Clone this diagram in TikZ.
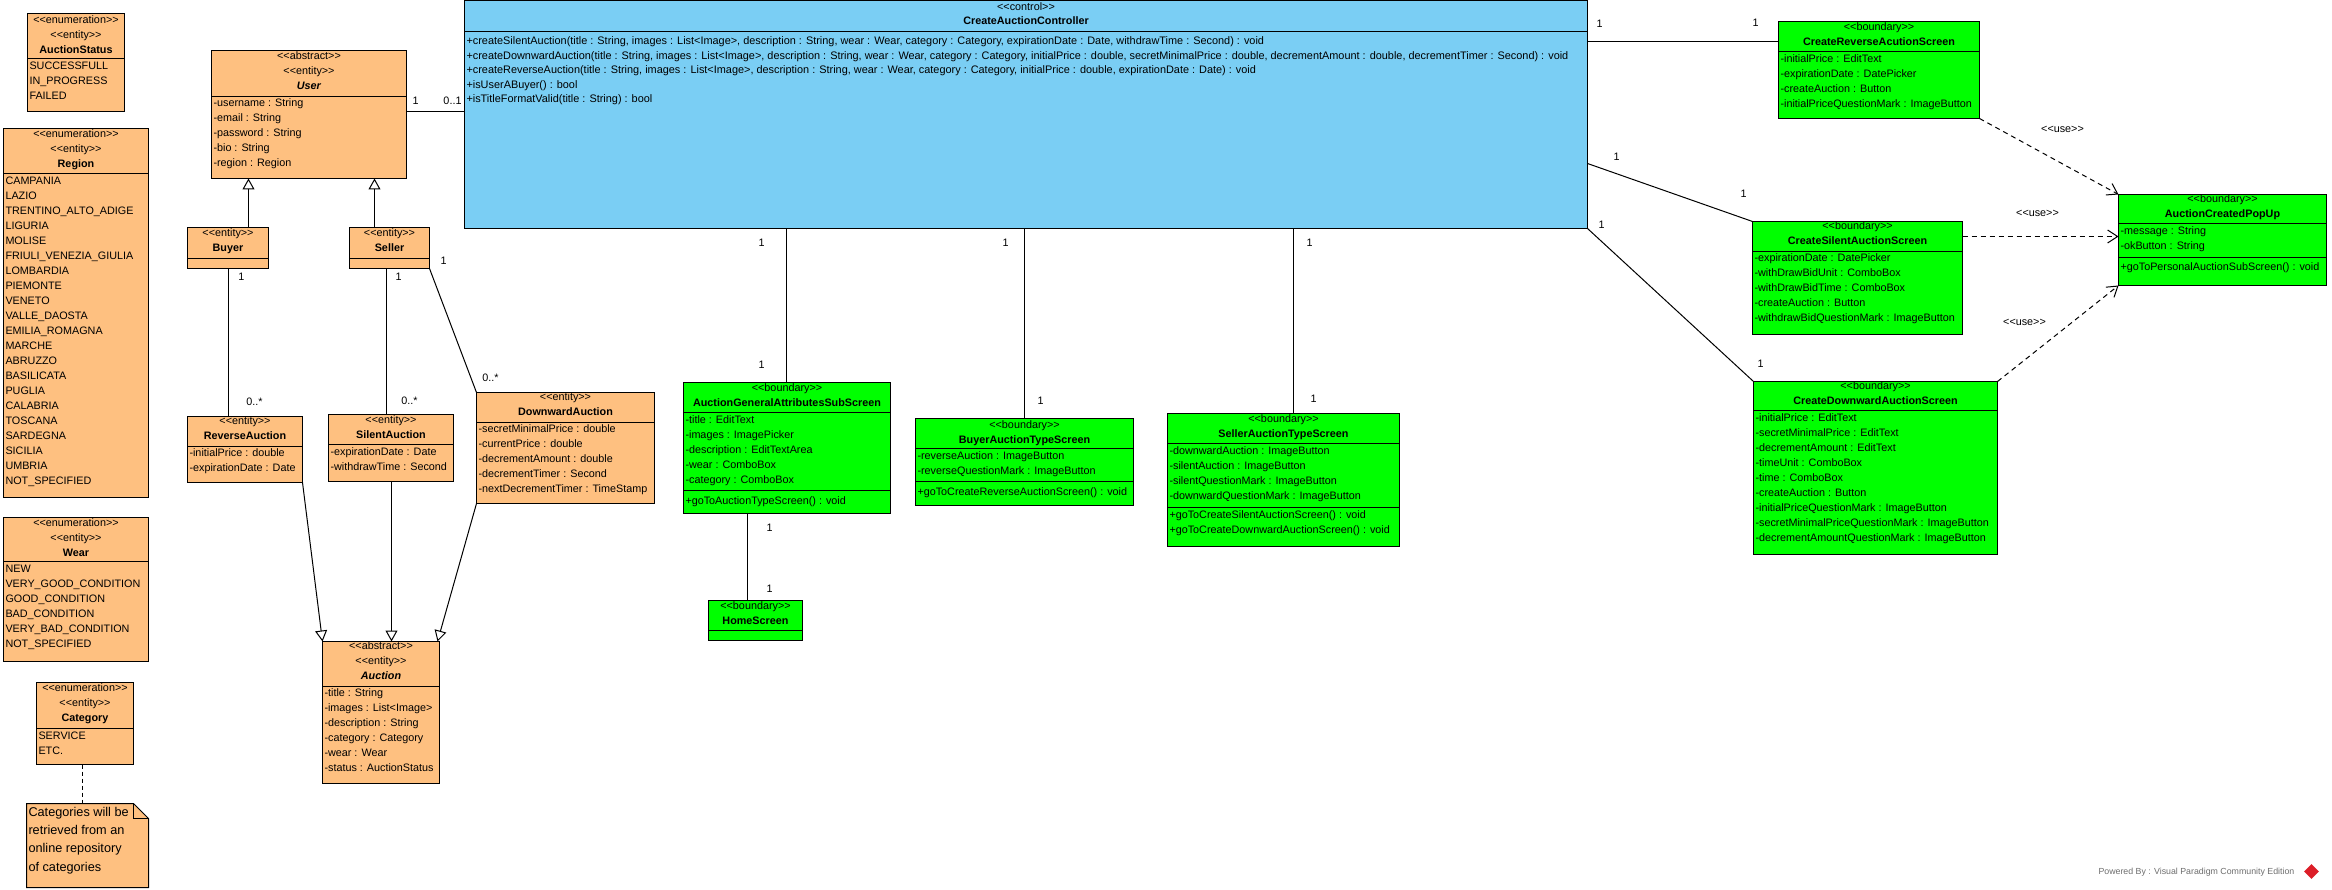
\documentclass[tikz,border=0pt]{standalone}
\usepackage{fontspec}
\setmainfont{Liberation Sans}[Ligatures=TeXOff]
\usetikzlibrary{arrows.meta,shapes.geometric}
\definecolor{ent}{RGB}{254,192,128}
\definecolor{ctl}{RGB}{122,206,244}
\definecolor{bnd}{RGB}{0,255,0}
\definecolor{wm}{RGB}{110,110,110}
\definecolor{vpred}{RGB}{220,30,40}
\tikzset{
 box/.style={draw=black, line width=1pt, inner sep=0pt, outer sep=0pt, anchor=north west},
 sepl/.style={line width=1pt},
 hdr/.style={inner sep=0pt, outer sep=0pt, anchor=north, align=center, font=\fontsize{10.8}{15}\selectfont, execute at begin node=\rule{0pt}{10pt}},
 txt/.style={inner sep=0pt, outer sep=0pt, anchor=north west, align=left, font=\fontsize{10.8}{15}\selectfont, execute at begin node=\rule{0pt}{10pt}},
 notetxt/.style={inner sep=0pt, outer sep=0pt, anchor=north west, align=left, font=\fontsize{12.7}{18.3}\selectfont, execute at begin node=\rule{0pt}{13pt}},
 lbl/.style={inner sep=0pt, outer sep=0pt, font=\fontsize{10.8}{13}\selectfont},
 assoc/.style={line width=1pt},
 gen/.style={line width=1pt, -{Triangle[open, width=12pt, length=11pt]}},
 dep/.style={line width=1pt, dash pattern=on 5pt off 4pt, -{Straight Barb[length=10pt, width=13pt]}},
 notelink/.style={line width=1pt, dash pattern=on 4pt off 3pt},
}
\newcommand\mkcls[6]{\node[box, fill=#6, minimum width=#4, minimum height=#5] (#1) at (#2,#3) {};}
\newcommand\mksep[2]{\draw[sepl] ([yshift=-#2pt]#1.north west) -- ([yshift=-#2pt]#1.north east);}
\newcommand\mkhdr[3]{\node[hdr] (#1-h) at ([yshift=-#2pt]#1.north) {#3};}
\newcommand\mktxt[4]{\node[txt] (#1-#2) at ([xshift=2pt,yshift=-#3pt]#1.north west) {#4};}
\begin{document}
\begin{tikzpicture}[x=1pt,y=-1pt]
\fill[white] (0,0) rectangle (2332,890);
\useasboundingbox (0,0) rectangle (2332,890);
\begin{scope}[shift={(0.5,0.5)}]

% ---------- enumerations ----------
\mkcls{status}{27}{13}{97}{98}{ent}
\mksep{status}{45}
\mkhdr{status}{2.5}{<<enumeration>>\\<<entity>>\\\textbf{AuctionStatus}}
\mktxt{status}{a}{48.5}{SUCCESSFULL\\IN\_PROGRESS\\FAILED}

\mkcls{region}{3}{128}{145}{369}{ent}
\mksep{region}{45}
\mkhdr{region}{1.5}{<<enumeration>>\\<<entity>>\\\textbf{Region}}
\mktxt{region}{a}{48.5}{CAMPANIA\\LAZIO\\TRENTINO\_ALTO\_ADIGE\\LIGURIA\\MOLISE\\FRIULI\_VENEZIA\_GIULIA\\LOMBARDIA\\PIEMONTE\\VENETO\\VALLE\_DAOSTA\\EMILIA\_ROMAGNA\\MARCHE\\ABRUZZO\\BASILICATA\\PUGLIA\\CALABRIA\\TOSCANA\\SARDEGNA\\SICILIA\\UMBRIA\\NOT\_SPECIFIED}

\mkcls{wear}{3}{517}{145}{144}{ent}
\mksep{wear}{44}
\mkhdr{wear}{1}{<<enumeration>>\\<<entity>>\\\textbf{Wear}}
\mktxt{wear}{a}{47.5}{NEW\\VERY\_GOOD\_CONDITION\\GOOD\_CONDITION\\BAD\_CONDITION\\VERY\_BAD\_CONDITION\\NOT\_SPECIFIED}

\mkcls{category}{36}{682}{97}{82}{ent}
\mksep{category}{46}
\mkhdr{category}{1.5}{<<enumeration>>\\<<entity>>\\\textbf{Category}}
\mktxt{category}{a}{49}{SERVICE\\ETC.}

% ---------- note ----------
\node[inner sep=0pt, outer sep=0pt, minimum width=122, minimum height=84, anchor=north west] (note) at (26,803) {};
\filldraw[fill=ent, line width=1pt] (note.north west) -- ([xshift=-15pt]note.north east) -- ([yshift=-15pt]note.north east) -- (note.south east) -- (note.south west) -- cycle;
\draw[line width=1pt] ([xshift=-15pt]note.north east) -- ([xshift=-15pt,yshift=-15pt]note.north east) -- ([yshift=-15pt]note.north east);
\node[notetxt] (note-t) at ([xshift=2pt,yshift=-3.5pt]note.north west) {Categories will be\\retrieved from an\\online repository\\of categories};
\draw[notelink] (category.south -| 82,0) -- (note.north -| 82,0);

% ---------- entities ----------
\mkcls{user}{211}{50}{195}{128}{ent}
\mksep{user}{46}
\mkhdr{user}{1.5}{<<abstract>>\\<<entity>>\\\textbf{\textit{User}}}
\mktxt{user}{a}{48.5}{-username : String\\-email : String\\-password : String\\-bio : String\\-region : Region}

\mkcls{buyer}{187}{227}{81}{41}{ent}
\mksep{buyer}{31}
\mkhdr{buyer}{1.5}{<<entity>>\\\textbf{Buyer}}

\mkcls{seller}{349}{227}{80}{41}{ent}
\mksep{seller}{31}
\mkhdr{seller}{1.5}{<<entity>>\\\textbf{Seller}}

\mkcls{reverse}{187}{416}{115}{66}{ent}
\mksep{reverse}{30}
\mkhdr{reverse}{0.5}{<<entity>>\\\textbf{ReverseAuction}}
\mktxt{reverse}{a}{32.5}{-initialPrice : double\\-expirationDate : Date}

\mkcls{silent}{328}{414}{125}{67}{ent}
\mksep{silent}{30}
\mkhdr{silent}{1.5}{<<entity>>\\\textbf{SilentAuction}}
\mktxt{silent}{a}{33.5}{-expirationDate : Date\\-withdrawTime : Second}

\mkcls{downward}{476}{392}{178}{111}{ent}
\mksep{downward}{30}
\mkhdr{downward}{0.5}{<<entity>>\\\textbf{DownwardAuction}}
\mktxt{downward}{a}{32.5}{-secretMinimalPrice : double\\-currentPrice : double\\-decrementAmount : double\\-decrementTimer : Second\\-nextDecrementTimer : TimeStamp}

\mkcls{auction}{322}{641}{117}{142}{ent}
\mksep{auction}{45}
\mkhdr{auction}{0.5}{<<abstract>>\\<<entity>>\\\textbf{\textit{Auction}}}
\mktxt{auction}{a}{47.5}{-title : String\\-images : List<Image>\\-description : String\\-category : Category\\-wear : Wear\\-status : AuctionStatus}

% ---------- controller ----------
\mkcls{ctrl}{464}{0}{1123}{228}{ctl}
\mksep{ctrl}{31}
\node[hdr, font=\fontsize{10.8}{14}\selectfont] (ctrl-h) at ([yshift=-2.5pt]ctrl.north) {<<control>>\\\textbf{CreateAuctionController}};
\node[txt, font=\fontsize{10.9}{14.5}\selectfont] (ctrl-o) at ([xshift=2pt,yshift=-36.5pt]ctrl.north west) {+createSilentAuction(title : String, images : List<Image>, description : String, wear : Wear, category : Category, expirationDate : Date, withdrawTime : Second) : void\\+createDownwardAuction(title : String, images : List<Image>, description : String, wear : Wear, category : Category, initialPrice : double, secretMinimalPrice : double, decrementAmount : double, decrementTimer : Second) : void\\+createReverseAuction(title : String, images : List<Image>, description : String, wear : Wear, category : Category, initialPrice : double, expirationDate : Date) : void\\+isUserABuyer() : bool\\+isTitleFormatValid(title : String) : bool};

% ---------- boundaries ----------
\mkcls{agen}{683}{382}{207}{131}{bnd}
\mksep{agen}{30}
\mksep{agen}{108}
\mkhdr{agen}{1.5}{<<boundary>>\\\textbf{AuctionGeneralAttributesSubScreen}}
\mktxt{agen}{a}{33.5}{-title : EditText\\-images : ImagePicker\\-description : EditTextArea\\-wear : ComboBox\\-category : ComboBox}
\mktxt{agen}{o}{111.5}{+goToAuctionTypeScreen() : void}

\mkcls{home}{708}{600}{94}{40}{bnd}
\mksep{home}{30}
\mkhdr{home}{1.5}{<<boundary>>\\\textbf{HomeScreen}}

\mkcls{btype}{915}{418}{218}{87}{bnd}
\mksep{btype}{30}
\mksep{btype}{63}
\mkhdr{btype}{2}{<<boundary>>\\\textbf{BuyerAuctionTypeScreen}}
\mktxt{btype}{a}{33.5}{-reverseAuction : ImageButton\\-reverseQuestionMark : ImageButton}
\mktxt{btype}{o}{66.5}{+goToCreateReverseAuctionScreen() : void}

\mkcls{stype}{1167}{413}{232}{133}{bnd}
\mksep{stype}{30}
\mksep{stype}{94}
\mkhdr{stype}{1.5}{<<boundary>>\\\textbf{SellerAuctionTypeScreen}}
\mktxt{stype}{a}{33.5}{-downwardAuction : ImageButton\\-silentAuction : ImageButton\\-silentQuestionMark : ImageButton\\-downwardQuestionMark : ImageButton}
\mktxt{stype}{o}{97.5}{+goToCreateSilentAuctionScreen() : void\\+goToCreateDownwardAuctionScreen() : void}

\mkcls{crrev}{1778}{21}{201}{97}{bnd}
\mksep{crrev}{30}
\mkhdr{crrev}{1}{<<boundary>>\\\textbf{CreateReverseAcutionScreen}}
\mktxt{crrev}{a}{33.5}{-initialPrice : EditText\\-expirationDate : DatePicker\\-createAuction : Button\\-initialPriceQuestionMark : ImageButton}

\mkcls{crsil}{1752}{221}{210}{113}{bnd}
\mksep{crsil}{30}
\mkhdr{crsil}{0.5}{<<boundary>>\\\textbf{CreateSilentAuctionScreen}}
\mktxt{crsil}{a}{32.5}{-expirationDate : DatePicker\\-withDrawBidUnit : ComboBox\\-withDrawBidTime : ComboBox\\-createAuction : Button\\-withdrawBidQuestionMark : ImageButton}

\mkcls{crdown}{1753}{381}{244}{173}{bnd}
\mksep{crdown}{29}
\mkhdr{crdown}{0.5}{<<boundary>>\\\textbf{CreateDownwardAuctionScreen}}
\mktxt{crdown}{a}{32.5}{-initialPrice : EditText\\-secretMinimalPrice : EditText\\-decrementAmount : EditText\\-timeUnit : ComboBox\\-time : ComboBox\\-createAuction : Button\\-initialPriceQuestionMark : ImageButton\\-secretMinimalPriceQuestionMark : ImageButton\\-decrementAmountQuestionMark : ImageButton}

\mkcls{popup}{2118}{194}{208}{91}{bnd}
\mksep{popup}{29}
\mksep{popup}{63}
\mkhdr{popup}{0.5}{<<boundary>>\\\textbf{AuctionCreatedPopUp}}
\mktxt{popup}{a}{32.5}{-message : String\\-okButton : String}
\mktxt{popup}{o}{66.5}{+goToPersonalAuctionSubScreen() : void}

% ---------- connectors: entities ----------
\draw[assoc] (user.east |- 0,111) -- (ctrl.west |- 0,111);
\node[lbl] (l-u1) at (415,100) {1};
\node[lbl] (l-u2) at (452,100) {0..1};

\draw[gen] (buyer.north -| 248,0) -- (user.south -| 248,0);
\draw[gen] (seller.north -| 374,0) -- (user.south -| 374,0);

\draw[assoc] (buyer.south -| 228,0) -- (reverse.north -| 228,0);
\node[lbl] (l-b1) at (241,276) {1};
\node[lbl] (l-b2) at (254,401) {0..*};
\draw[assoc] (seller.south -| 386,0) -- (silent.north -| 386,0);
\node[lbl] (l-s1) at (398,276) {1};
\node[lbl] (l-s2) at (409,400) {0..*};
\draw[assoc] (seller.south east) -- (downward.north west);
\node[lbl] (l-d1) at (443,260) {1};
\node[lbl] (l-d2) at (490,377) {0..*};

\draw[gen] (reverse.south east) -- (auction.north west);
\draw[gen] (silent.south -| 391,0) -- (auction.north -| 391,0);
\draw[gen] (downward.south west) -- ([xshift=-2pt]auction.north east);

% ---------- connectors: controller ----------
\draw[assoc] (ctrl.south -| 786,0) -- (agen.north -| 786,0);
\node[lbl] (l-a1) at (761,242) {1};
\node[lbl] (l-a2) at (761,364) {1};
\draw[assoc] (agen.south -| 747,0) -- (home.north -| 747,0);
\node[lbl] (l-h1) at (769,527) {1};
\node[lbl] (l-h2) at (769,588) {1};
\draw[assoc] (ctrl.south -| 1024,0) -- (btype.north -| 1024,0);
\node[lbl] (l-bt1) at (1005,242) {1};
\node[lbl] (l-bt2) at (1040,400) {1};
\draw[assoc] (ctrl.south -| 1293,0) -- (stype.north -| 1293,0);
\node[lbl] (l-st1) at (1309,242) {1};
\node[lbl] (l-st2) at (1313,398) {1};

\draw[assoc] (ctrl.east |- 0,41) -- (crrev.west |- 0,41);
\node[lbl] (l-r1) at (1599,23) {1};
\node[lbl] (l-r2) at (1755,22) {1};
\draw[assoc] (ctrl.east |- 0,163) -- (crsil.north west);
\node[lbl] (l-c1) at (1616,156) {1};
\node[lbl] (l-c2) at (1743,193) {1};
\draw[assoc] (ctrl.south east) -- (crdown.north west);
\node[lbl] (l-w1) at (1601,224) {1};
\node[lbl] (l-w2) at (1760,363) {1};

% ---------- dependencies ----------
\draw[dep] (crrev.south east) -- (popup.north west);
\node[lbl] (use1) at (2062,129) {<<use>>};
\draw[dep] (crsil.east |- 0,236) -- (popup.west |- 0,236);
\node[lbl] (use2) at (2037,213) {<<use>>};
\draw[dep] (crdown.north east) -- (popup.south west);
\node[lbl] (use3) at (2024,322) {<<use>>};

% ---------- watermark ----------
\node[anchor=east, font=\fontsize{8.8}{10}\selectfont, text=wm, inner sep=0pt] (wmark) at (2294,872) {Powered By : Visual Paradigm Community Edition};
\node[diamond, fill=vpred, minimum size=15pt, inner sep=0pt] (vplogo) at (2311,871) {};
\end{scope}
\end{tikzpicture}
\end{document}
